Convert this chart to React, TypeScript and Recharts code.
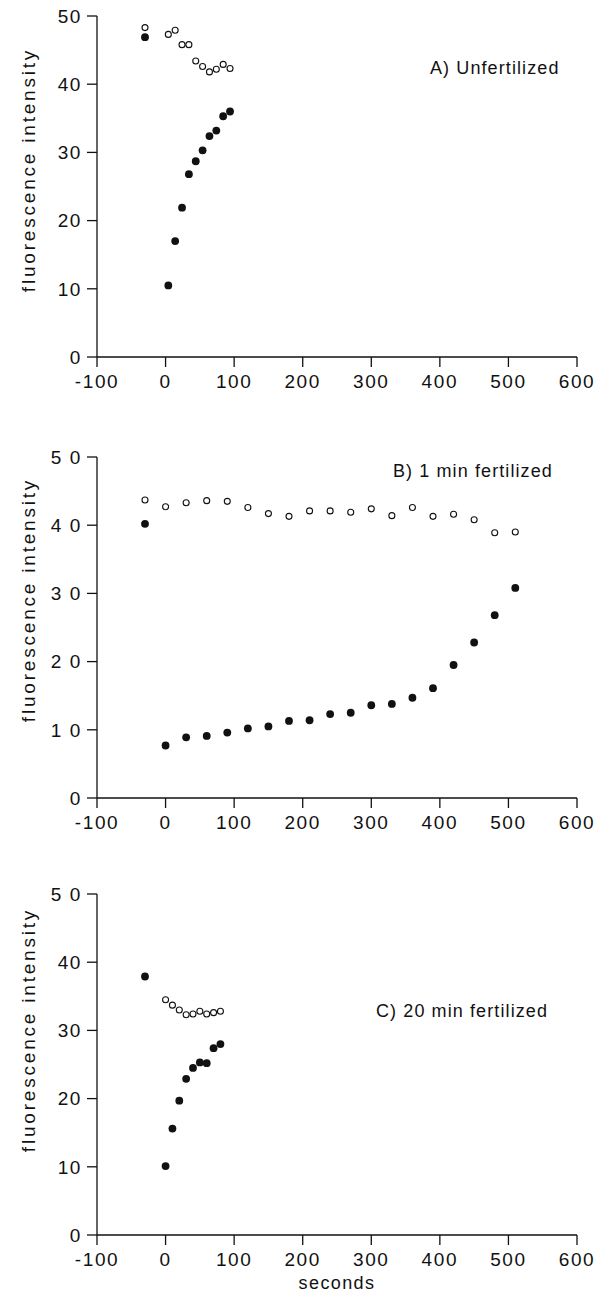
import React from "react";
import { ScatterChart, Scatter, XAxis, YAxis } from "recharts";

const X_TICKS = [-100, 0, 100, 200, 300, 400, 500, 600];
const Y_TICKS = [0, 10, 20, 30, 40, 50];
const Y_LABELS_A = ["0", "10", "20", "30", "40", "50"];
const Y_LABELS_B = ["0", "1 0", "2 0", "3 0", "4 0", "5 0"];
const Y_LABELS_C = ["0", "10", "20", "30", "40", "5 0"];

// A) unfertilized
const A_TIME = [-30, 4, 14, 24, 34, 44, 54, 64, 74, 84, 94];
const A_OPEN = [48.3, 47.3, 47.9, 45.8, 45.8, 43.4, 42.6, 41.8, 42.2, 42.9, 42.3];
const A_FILLED = [46.9, 10.5, 17.0, 21.9, 26.8, 28.7, 30.3, 32.4, 33.2, 35.3, 36.0];

// B) 1 min fertilized
const B_TIME = [-30, 0, 30, 60, 90, 120, 150, 180, 210, 240, 270, 300, 330, 360, 390, 420, 450, 480, 510];
const B_OPEN = [43.7, 42.7, 43.3, 43.6, 43.5, 42.6, 41.7, 41.3, 42.1, 42.1, 41.9, 42.4, 41.4, 42.6, 41.3, 41.6, 40.8, 38.9, 39.0];
const B_FILLED = [40.2, 7.7, 8.9, 9.1, 9.6, 10.2, 10.5, 11.3, 11.4, 12.3, 12.5, 13.6, 13.8, 14.7, 16.1, 19.5, 22.8, 26.8, 30.8];

// C) 20 min fertilized
const C_OPEN_TIME = [0, 10, 20, 30, 40, 50, 60, 70, 80];
const C_OPEN = [34.5, 33.7, 33.0, 32.3, 32.4, 32.8, 32.4, 32.6, 32.8];
const C_FILLED_TIME = [-30, 0, 10, 20, 30, 40, 50, 60, 70, 80];
const C_FILLED = [37.9, 10.1, 15.6, 19.7, 22.9, 24.5, 25.3, 25.2, 27.4, 28.0];

const FONT = "'Liberation Sans', Arial, Helvetica, sans-serif";
const INK = "#111";

const toPoints = (xs: number[], ys: number[]) => xs.map((x, i) => ({ x, y: ys[i] }));

const FilledDot = (p: any) => <circle cx={p.cx} cy={p.cy} r={3.9} fill={INK} />;
const OpenDot = (p: any) => (
  <circle cx={p.cx} cy={p.cy} r={3} fill="#fff" stroke={INK} strokeWidth={1.1} />
);

type PanelProps = {
  top: number;
  title: string;
  titleX: number;
  titleY: number;
  labelY: number;
  yLabels: string[];
  open: { x: number; y: number }[];
  filled: { x: number; y: number }[];
};

function Panel({ top, title, titleX, titleY, labelY, yLabels, open, filled }: PanelProps) {
  const tickStyle = { fontSize: 19, fill: INK, fontFamily: FONT, letterSpacing: 1.6 };
  return (
    <>
      <div style={{ position: "absolute", left: 0, top }}>
        <ScatterChart width={609} height={406} margin={{ top: 16, right: 32, left: 0, bottom: 4 }}>
          <XAxis
            type="number"
            dataKey="x"
            domain={[-100, 600]}
            ticks={X_TICKS}
            interval={0}
            height={45}
            tickSize={10}
            tickMargin={8}
            stroke={INK}
            strokeWidth={1.3}
            tick={tickStyle}
          />
          <YAxis
            type="number"
            dataKey="y"
            domain={[0, 50]}
            ticks={Y_TICKS}
            interval={0}
            width={97}
            tickSize={10}
            tickMargin={5}
            stroke={INK}
            strokeWidth={1.3}
            tick={tickStyle}
            tickFormatter={(v: number) => yLabels[Y_TICKS.indexOf(v)]}
          />
          <Scatter data={open} shape={OpenDot} isAnimationActive={false} />
          <Scatter data={filled} shape={FilledDot} isAnimationActive={false} />
        </ScatterChart>
      </div>
      <div
        style={{
          position: "absolute",
          left: titleX,
          top: titleY - 10,
          fontFamily: FONT,
          fontSize: 18,
          lineHeight: "20px",
          letterSpacing: 1.1,
          color: INK,
          whiteSpace: "nowrap",
        }}
      >
        {title}
      </div>
      <div
        style={{
          position: "absolute",
          left: 29,
          top: labelY,
          transform: "translate(-50%, -50%) rotate(-90deg)",
          fontFamily: FONT,
          fontSize: 19,
          lineHeight: "20px",
          letterSpacing: 2.8,
          color: INK,
          whiteSpace: "nowrap",
        }}
      >
        fluorescence intensity
      </div>
    </>
  );
}

export default function App() {
  return (
    <div style={{ position: "absolute", left: 0, top: 0, width: 609, height: 1301, background: "#fff" }}>
      <Panel
        top={0}
        title="A) Unfertilized"
        titleX={430}
        titleY={68}
        labelY={170}
        yLabels={Y_LABELS_A}
        open={toPoints(A_TIME, A_OPEN)}
        filled={toPoints(A_TIME, A_FILLED)}
      />
      <Panel
        top={441}
        title="B) 1 min fertilized"
        titleX={393}
        titleY={471}
        labelY={600}
        yLabels={Y_LABELS_B}
        open={toPoints(B_TIME, B_OPEN)}
        filled={toPoints(B_TIME, B_FILLED)}
      />
      <Panel
        top={878}
        title="C) 20 min fertilized"
        titleX={376}
        titleY={1011}
        labelY={1030}
        yLabels={Y_LABELS_C}
        open={toPoints(C_OPEN_TIME, C_OPEN)}
        filled={toPoints(C_FILLED_TIME, C_FILLED)}
      />
      <div
        style={{
          position: "absolute",
          left: 337,
          top: 1283,
          transform: "translate(-50%, -50%)",
          fontFamily: FONT,
          fontSize: 18,
          lineHeight: "20px",
          letterSpacing: 1.4,
          color: INK,
          whiteSpace: "nowrap",
        }}
      >
        seconds
      </div>
    </div>
  );
}
